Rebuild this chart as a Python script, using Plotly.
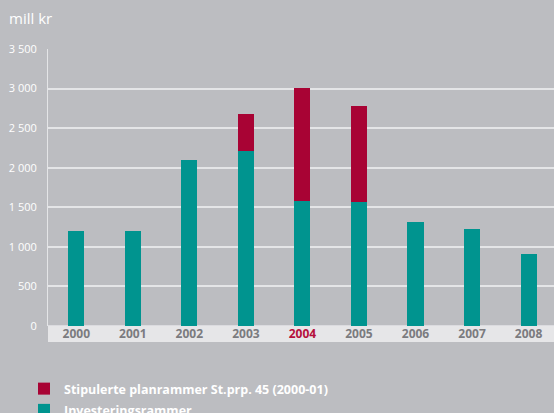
import plotly.graph_objects as go

years = ["2000", "2001", "2002", "2003", "2004", "2005", "2006", "2007", "2008"]
investering = [1200, 1200, 2095, 2210, 1580, 1570, 1320, 1225, 905]
stipulert = [0, 0, 0, 470, 1430, 1210, 0, 0, 0]
y_ticks = [0, 500, 1000, 1500, 2000, 2500, 3000, 3500]
y_ticktext = ["0", "500", "1 000", "1 500", "2 000", "2 500", "3 000", "3 500"]
highlight_year = "2004"

TEAL = "#00948f"
RED = "#a80334"
BG = "#bcbdc1"
GRID = "#e4e5e7"
BAND = "#e6e6e8"
TICKGRAY = "#7b7b7f"
FONT = "Open Sans"

x_ticktext = [
    f"<span style='color:#b5103c'>{y}</span>" if y == highlight_year else y
    for y in years
]

fig = go.Figure()
fig.add_trace(go.Bar(
    x=list(range(len(years))), y=investering, name="Investeringsrammer",
    legendgroup="teal", legendrank=2,
    marker=dict(color=TEAL, line=dict(width=0)), width=0.285,
))
fig.add_trace(go.Bar(
    x=list(range(len(years))), y=stipulert, name="Stipulerte planrammer St.prp. 45 (2000-01)",
    legendgroup="red", legendrank=1,
    marker=dict(color=RED, line=dict(width=0)), width=0.285,
))

fig.update_layout(
    width=554, height=413,
    margin=dict(l=48, r=0, t=49, b=87, autoexpand=False),
    paper_bgcolor=BG, plot_bgcolor=BG,
    barmode="stack",
    font=dict(family=FONT, color="white"),
    showlegend=True,
    legend=dict(
        orientation="v", xref="container", yref="container",
        x=24 / 554, xanchor="left", y=(413 - 374) / 413, yanchor="top",
        traceorder="grouped", bgcolor="rgba(0,0,0,0)",
        font=dict(family=FONT, size=12.5, color="white", weight="bold"),
        itemsizing="constant", tracegroupgap=2,
    ),
    xaxis=dict(
        range=[-0.5, 8.45], tickmode="array",
        tickvals=list(range(len(years))), ticktext=x_ticktext,
        showgrid=False, zeroline=False, showline=False, ticks="",
        tickfont=dict(family=FONT, size=12, color=TICKGRAY, weight="bold"),
        ticklabelstandoff=-1, fixedrange=True,
    ),
    yaxis=dict(
        range=[0, 3500], tickmode="array", tickvals=y_ticks, ticktext=y_ticktext,
        showgrid=True, gridcolor=GRID, gridwidth=1.5,
        zeroline=False, showline=True, linecolor=GRID, linewidth=1,
        ticks="", tickfont=dict(family=FONT, size=11, color="white"),
        ticklabelstandoff=8, fixedrange=True,
    ),
    shapes=[dict(
        type="rect", xref="paper", yref="paper", x0=0, x1=1.01, y0=-0.058, y1=0.003,
        fillcolor=BAND, line=dict(width=0), layer="below",
    )],
    annotations=[dict(
        text="mill kr", xref="paper", yref="paper", x=-0.081, y=1.112,
        xanchor="left", yanchor="middle", showarrow=False,
        font=dict(family=FONT, size=15, color="white"),
    )],
)

fig.write_html("out.html")
